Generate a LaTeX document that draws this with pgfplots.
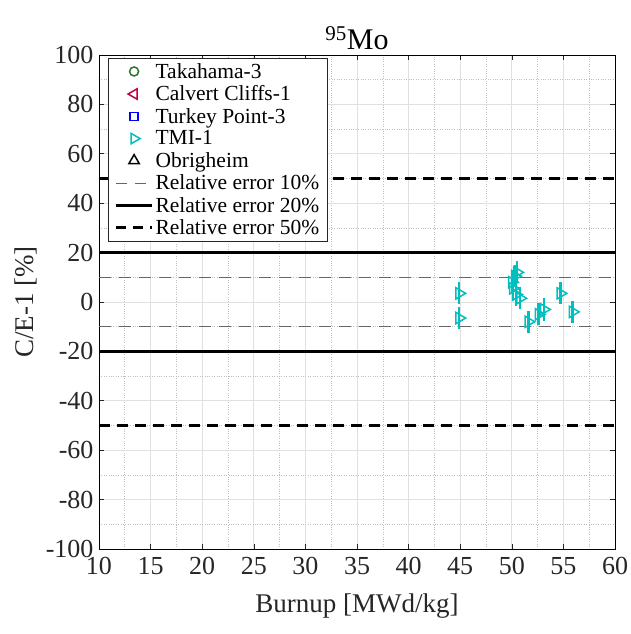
\documentclass[border=0pt]{standalone}
\usepackage{fontspec}
\setmainfont{Liberation Serif}
\usepackage{pgfplots}
\pgfplotsset{compat=1.18}
\definecolor{axc}{RGB}{38,38,38}
\definecolor{takc}{RGB}{46,115,46}
\definecolor{calc}{RGB}{191,0,64}
\definecolor{tpc}{RGB}{0,0,255}
\definecolor{tmic}{RGB}{0,191,191}

\begin{document}
\begin{tikzpicture}
\begin{axis}[
  name=ax, scale only axis, width=516pt, height=494pt,
  xmin=10, xmax=60, ymin=-100, ymax=100,
  xtick={10,15,...,60}, ytick={-100,-80,...,100},
  minor x tick num=1, minor y tick num=1,
  grid=both,
  major grid style={black!12, line width=0.7pt},
  minor grid style={black!25, dotted, line width=0.6pt},
  tick align=inside, major tick length=5pt, minor tick length=0pt,
  axis line style={black, line width=0.7pt}, tick style={axc, line width=0.6pt},
  ticklabel style={font=\fontsize{26}{28}\selectfont, text=axc},
  xticklabel style={yshift=-5pt}, yticklabel style={xshift=-2pt},
  /pgf/number format/assume math mode=true,
  xlabel={Burnup [MWd/kg]}, ylabel={C/E-1 [\%]},
  label style={font=\fontsize{27}{29}\selectfont, text=axc},
  xlabel style={yshift=-12pt}, ylabel style={yshift=2pt},
  title={\textsuperscript{95}Mo},
  title style={font=\fontsize{30}{32}\selectfont, yshift=-4pt},
  legend image code/.code={\draw[mark repeat=2,mark phase=2,#1] plot coordinates {(0pt,0pt)(18pt,0pt)(36pt,0pt)};},
  legend style={at={(0.018,0.994)}, anchor=north west, draw=axc, fill=white,
    font=\fontsize{21.5}{23}\selectfont, cells={anchor=west},
    row sep=2pt, inner xsep=6pt, inner ysep=3pt, line width=0.6pt},
  legend entries={Takahama-3, Calvert Cliffs-1, Turkey Point-3, TMI-1, Obrigheim,
    Relative error 10\%, Relative error 20\%, Relative error 50\%},
]
  \addlegendimage{only marks, mark=o, takc, mark size=4.5pt, line width=1.5pt}
  \addlegendimage{only marks, mark=triangle, mark options={rotate=90}, calc, mark size=6pt, line width=1.5pt}
  \addlegendimage{only marks, mark=square, tpc, mark size=4pt, line width=1.5pt}
  \addlegendimage{only marks, mark=triangle, mark options={rotate=-90}, tmic, mark size=6pt, line width=1.5pt}
  \addlegendimage{only marks, mark=triangle, black, mark size=6pt, line width=1.5pt}
  \addlegendimage{black!60, dash pattern=on 11pt off 8pt, line width=0.8pt}
  \addlegendimage{black, line width=3pt}
  \addlegendimage{black, dash pattern=on 10pt off 7pt, line width=3pt}

  % relative error bands
  \addplot[forget plot, black!60, dash pattern=on 12pt off 8pt, line width=0.9pt] coordinates {(10,10)(60,10)};
  \addplot[forget plot, black!60, dash pattern=on 12pt off 8pt, line width=0.9pt] coordinates {(10,-10)(60,-10)};
  \addplot[forget plot, black, line width=3pt] coordinates {(10,20)(60,20)};
  \addplot[forget plot, black, line width=3pt] coordinates {(10,-20)(60,-20)};
  \addplot[forget plot, black, dash pattern=on 11pt off 7pt, line width=3pt] coordinates {(10,50)(60,50)};
  \addplot[forget plot, black, dash pattern=on 11pt off 7pt, line width=3pt] coordinates {(10,-50)(60,-50)};

  % TMI-1 measurements
  \addplot[forget plot, only marks, mark=triangle, mark options={rotate=-90}, tmic,
    mark size=6.5pt, line width=1.5pt,
    error bars/.cd, y dir=both, y explicit, error mark=none,
    error bar style={tmic, line width=2.4pt}]
    coordinates {
      (44.9,3.5) +- (0,4.5)
      (44.9,-6.5) +- (0,4.5)
      (50.0,8.0) +- (0,4.5)
      (50.1,5.5) +- (0,4.5)
      (50.3,10.5) +- (0,4.5)
      (50.5,12.0) +- (0,4.5)
      (50.4,3.0) +- (0,4.5)
      (50.8,1.5) +- (0,4.5)
      (51.6,-8.0) +- (0,4.5)
      (52.6,-5.0) +- (0,4.5)
      (53.1,-3.0) +- (0,4.5)
      (54.7,3.5) +- (0,4.5)
      (55.9,-4.0) +- (0,4.5)
    };
\end{axis}
\pgfresetboundingbox
\path ([xshift=-99pt,yshift=-85pt]ax.south west) rectangle ([xshift=15pt,yshift=55pt]ax.north east);
\end{tikzpicture}
\end{document}
